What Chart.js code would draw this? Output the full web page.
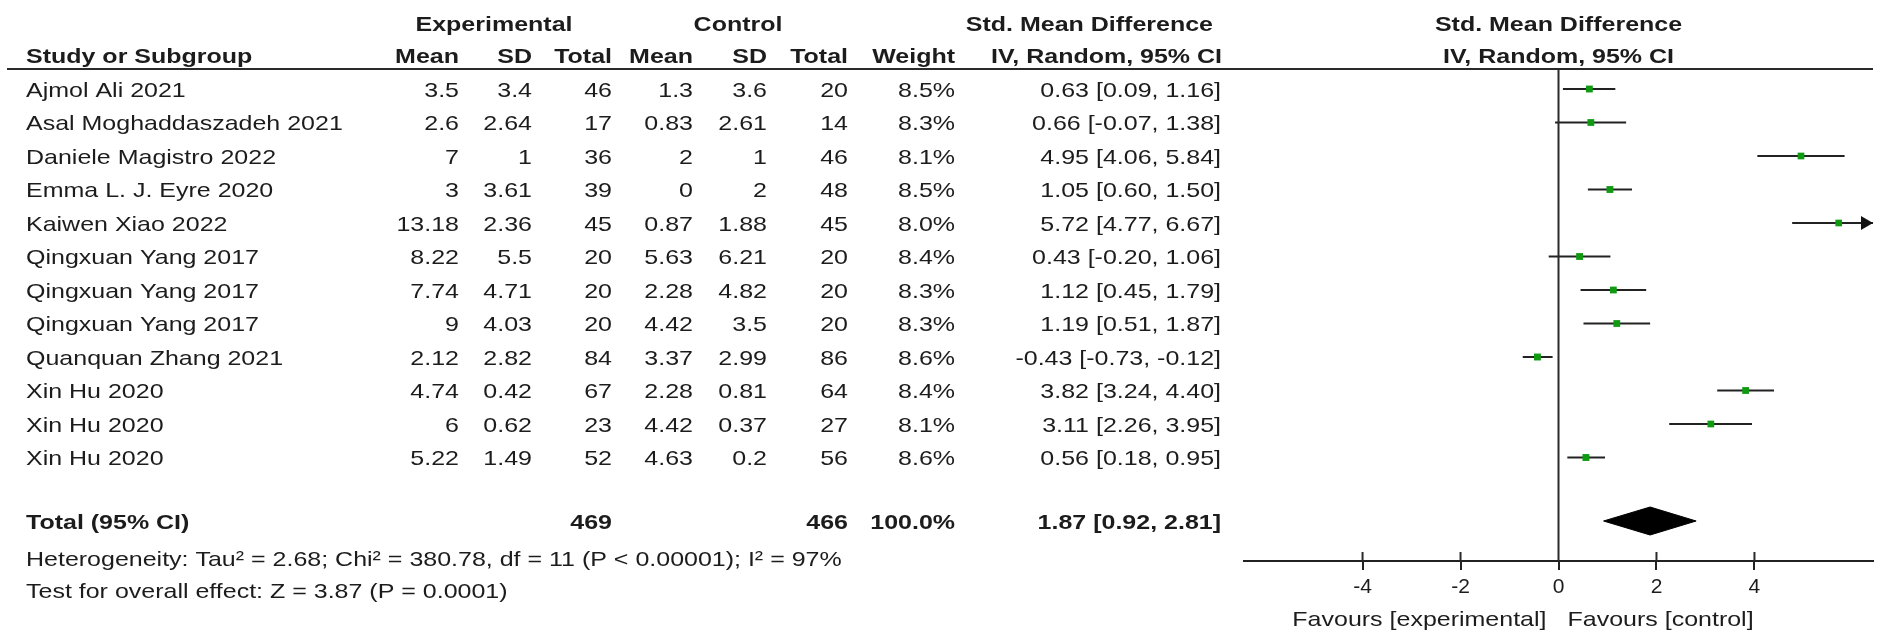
<!DOCTYPE html>
<html>
<head>
<meta charset="utf-8">
<script src="https://cdn.jsdelivr.net/npm/chart.js@4.4.1/dist/chart.umd.min.js"></script>
<style>
html,body{margin:0;padding:0;background:#fff;}
#wrap{width:1901px;height:637px;position:relative;}
</style>
</head>
<body>
<div id="wrap"><canvas id="c" width="1901" height="637"></canvas></div>
<script>
// ---------- data ----------
const studies = ["Ajmol Ali 2021","Asal Moghaddaszadeh 2021","Daniele Magistro 2022","Emma L. J. Eyre 2020","Kaiwen Xiao 2022","Qingxuan Yang 2017","Qingxuan Yang 2017","Qingxuan Yang 2017","Quanquan Zhang 2021","Xin Hu 2020","Xin Hu 2020","Xin Hu 2020"];
const expMean = [3.5, 2.6, 7, 3, 13.18, 8.22, 7.74, 9, 2.12, 4.74, 6, 5.22];
const expSD   = [3.4, 2.64, 1, 3.61, 2.36, 5.5, 4.71, 4.03, 2.82, 0.42, 0.62, 1.49];
const expN    = [46, 17, 36, 39, 45, 20, 20, 20, 84, 67, 23, 52];
const ctrlMean = [1.3, 0.83, 2, 0, 0.87, 5.63, 2.28, 4.42, 3.37, 2.28, 4.42, 4.63];
const ctrlSD   = [3.6, 2.61, 1, 2, 1.88, 6.21, 4.82, 3.5, 2.99, 0.81, 0.37, 0.2];
const ctrlN    = [20, 14, 46, 48, 45, 20, 20, 20, 86, 64, 27, 56];
const weights  = [8.5, 8.3, 8.1, 8.5, 8.0, 8.4, 8.3, 8.3, 8.6, 8.4, 8.1, 8.6];
const smd      = [0.63, 0.66, 4.95, 1.05, 5.72, 0.43, 1.12, 1.19, -0.43, 3.82, 3.11, 0.56];
const ciLow    = [0.09, -0.07, 4.06, 0.60, 4.77, -0.20, 0.45, 0.51, -0.73, 3.24, 2.26, 0.18];
const ciHigh   = [1.16, 1.38, 5.84, 1.50, 6.67, 1.06, 1.79, 1.87, -0.12, 4.40, 3.95, 0.95];
const totalExpN = 469;
const totalCtrlN = 466;
const totalWeight = 100.0;
const totalSMD = 1.87;
const totalLow = 0.92;
const totalHigh = 2.81;
const heterogeneityText = "Heterogeneity: Tau\u00B2 = 2.68; Chi\u00B2 = 380.78, df = 11 (P < 0.00001); I\u00B2 = 97%";
const overallText = "Test for overall effect: Z = 3.87 (P = 0.0001)";
const xTicks = [-4, -2, 0, 2, 4];
const xMin = -6.42, xMax = 6.42;
const favourLeft = "Favours [experimental]";
const favourRight = "Favours [control]";

// ---------- layout ----------
const FONT = '"Liberation Sans", Arial, sans-serif';
const FS = 21, SX = 1.19;
const INK = '#1c1c1c';
const GREEN = '#0f9a12';
const ROW0 = 89, ROWH = 33.5;            // pixel of first study row, row spacing
const TOP = 69, AXIS_Y = 561;
const yMinV = (TOP - ROW0) / ROWH, yMaxV = (AXIS_Y - ROW0) / ROWH;
const TOTAL_ROW = (521 - ROW0) / ROWH;
const DIAMOND_H = 14 / ROWH;

function txt(ctx, s, x, y, align, bold) {
  ctx.save();
  ctx.font = (bold ? 'bold ' : '') + FS + 'px ' + FONT;
  ctx.fillStyle = INK;
  ctx.textAlign = align;
  ctx.textBaseline = 'middle';
  ctx.translate(x, y);
  ctx.scale(SX, 1);
  ctx.fillText(s, 0, 0);
  ctx.restore();
}

const cols = {
  expMean: 459, expSD: 532, expN: 612,
  ctrlMean: 693, ctrlSD: 767, ctrlN: 848,
  weight: 955, ci: 1221
};

const tablePlugin = {
  id: 'forestTable',
  afterDraw(chart) {
    const ctx = chart.ctx;
    const xs = chart.scales.x, ys = chart.scales.y;
    const ca = chart.chartArea;
    // header texts
    txt(ctx, 'Experimental', 494, 25, 'center', true);
    txt(ctx, 'Control', 738, 25, 'center', true);
    txt(ctx, 'Std. Mean Difference', 1213, 25, 'right', true);
    txt(ctx, 'Std. Mean Difference', xs.getPixelForValue(0), 25, 'center', true);
    txt(ctx, 'Study or Subgroup', 26, 57, 'left', true);
    txt(ctx, 'Mean', cols.expMean, 57, 'right', true);
    txt(ctx, 'SD', cols.expSD, 57, 'right', true);
    txt(ctx, 'Total', cols.expN, 57, 'right', true);
    txt(ctx, 'Mean', cols.ctrlMean, 57, 'right', true);
    txt(ctx, 'SD', cols.ctrlSD, 57, 'right', true);
    txt(ctx, 'Total', cols.ctrlN, 57, 'right', true);
    txt(ctx, 'Weight', cols.weight, 57, 'right', true);
    txt(ctx, 'IV, Random, 95% CI', 1222, 57, 'right', true);
    txt(ctx, 'IV, Random, 95% CI', xs.getPixelForValue(0), 57, 'center', true);

    // header rule
    ctx.save();
    ctx.strokeStyle = '#2a2a2a';
    ctx.lineWidth = 2;
    ctx.beginPath();
    ctx.moveTo(7, TOP); ctx.lineTo(ca.right, TOP);
    ctx.stroke();
    // zero line
    const x0 = xs.getPixelForValue(0);
    ctx.beginPath();
    ctx.moveTo(x0, TOP); ctx.lineTo(x0, ca.bottom);
    ctx.stroke();
    // upper halves of ticks
    xTicks.forEach(v => {
      if (v === 0) return;
      const px = xs.getPixelForValue(v);
      ctx.beginPath();
      ctx.moveTo(px, ca.bottom - 9); ctx.lineTo(px, ca.bottom);
      ctx.stroke();
    });
    ctx.restore();

    // study rows
    studies.forEach((s, i) => {
      const y = ys.getPixelForValue(i) + 2;
      txt(ctx, s, 26, y, 'left', false);
      txt(ctx, String(expMean[i]), cols.expMean, y, 'right', false);
      txt(ctx, String(expSD[i]), cols.expSD, y, 'right', false);
      txt(ctx, String(expN[i]), cols.expN, y, 'right', false);
      txt(ctx, String(ctrlMean[i]), cols.ctrlMean, y, 'right', false);
      txt(ctx, String(ctrlSD[i]), cols.ctrlSD, y, 'right', false);
      txt(ctx, String(ctrlN[i]), cols.ctrlN, y, 'right', false);
      txt(ctx, weights[i].toFixed(1) + '%', cols.weight, y, 'right', false);
      txt(ctx, smd[i].toFixed(2) + ' [' + ciLow[i].toFixed(2) + ', ' + ciHigh[i].toFixed(2) + ']', cols.ci, y, 'right', false);
      // arrow when CI exceeds axis
      if (ciHigh[i] > xMax) {
        const tip = xs.getPixelForValue(xMax), py = ys.getPixelForValue(i);
        ctx.save();
        ctx.fillStyle = '#111';
        ctx.beginPath();
        ctx.moveTo(tip, py); ctx.lineTo(tip - 12, py - 7); ctx.lineTo(tip - 12, py + 7);
        ctx.closePath(); ctx.fill();
        ctx.restore();
      }
      if (ciLow[i] < xMin) {
        const tip = xs.getPixelForValue(xMin), py = ys.getPixelForValue(i);
        ctx.save();
        ctx.fillStyle = '#111';
        ctx.beginPath();
        ctx.moveTo(tip, py); ctx.lineTo(tip + 12, py - 7); ctx.lineTo(tip + 12, py + 7);
        ctx.closePath(); ctx.fill();
        ctx.restore();
      }
    });

    // total row
    const ty = ys.getPixelForValue(TOTAL_ROW) + 2;
    txt(ctx, 'Total (95% CI)', 26, ty, 'left', true);
    txt(ctx, String(totalExpN), cols.expN, ty, 'right', true);
    txt(ctx, String(totalCtrlN), cols.ctrlN, ty, 'right', true);
    txt(ctx, totalWeight.toFixed(1) + '%', cols.weight, ty, 'right', true);
    txt(ctx, totalSMD.toFixed(2) + ' [' + totalLow.toFixed(2) + ', ' + totalHigh.toFixed(2) + ']', cols.ci, ty, 'right', true);

    txt(ctx, heterogeneityText, 26, 560, 'left', false);
    txt(ctx, overallText, 26, 592, 'left', false);

    // favours labels
    txt(ctx, favourLeft, x0 - 12, 620, 'right', false);
    txt(ctx, favourRight, x0 + 9, 620, 'left', false);
  }
};

const datasets = [];
studies.forEach((s, i) => {
  datasets.push({
    type: 'line',
    label: s + ' CI',
    data: [{x: ciLow[i], y: i}, {x: ciHigh[i], y: i}],
    borderColor: '#222',
    borderWidth: 2,
    pointRadius: 0,
    fill: false,
    order: 2
  });
});
datasets.push({
  type: 'scatter',
  label: 'SMD',
  data: smd.map((v, i) => ({x: v, y: i})),
  pointStyle: 'rect',
  pointRadius: weights.map(w => 4.8 * Math.sqrt(w / 8.3)),
  backgroundColor: GREEN,
  borderColor: GREEN,
  borderWidth: 0,
  order: 1
});
datasets.push({
  type: 'line',
  label: 'Total',
  data: [
    {x: totalLow, y: TOTAL_ROW},
    {x: totalSMD, y: TOTAL_ROW - DIAMOND_H},
    {x: totalHigh, y: TOTAL_ROW},
    {x: totalSMD, y: TOTAL_ROW + DIAMOND_H},
    {x: totalLow, y: TOTAL_ROW}
  ],
  borderColor: '#000',
  backgroundColor: '#000',
  borderWidth: 1,
  pointRadius: 0,
  fill: 'shape',
  tension: 0,
  order: 1
});

new Chart(document.getElementById('c'), {
  type: 'scatter',
  data: { datasets },
  options: {
    responsive: false,
    animation: false,
    devicePixelRatio: 1,
    layout: { padding: { left: 1244, right: 1901 - 1873, top: TOP, bottom: 0 } },
    plugins: { legend: { display: false }, tooltip: { enabled: false } },
    scales: {
      x: {
        type: 'linear',
        position: 'bottom',
        min: xMin, max: xMax,
        afterBuildTicks: s => { s.ticks = xTicks.map(v => ({ value: v })); },
        afterFit: s => { s.height = 637 - AXIS_Y; },
        grid: { drawOnChartArea: false, drawTicks: true, tickLength: 9, color: '#222', lineWidth: 2 },
        border: { display: true, color: '#222', width: 2 },
        ticks: { font: { family: FONT, size: FS }, color: INK, padding: 5, maxRotation: 0, autoSkip: false,
                 callback: v => String(v) }
      },
      y: {
        type: 'linear',
        display: false,
        reverse: true,
        min: yMinV, max: yMaxV
      }
    }
  },
  plugins: [tablePlugin]
});
</script>
</body>
</html>
